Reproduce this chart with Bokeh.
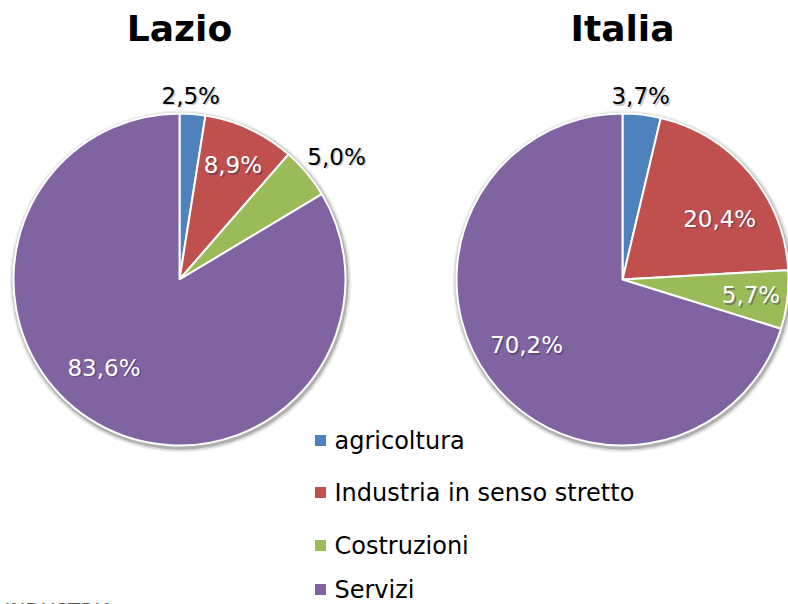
import numpy as np
from bokeh.plotting import figure
from bokeh.models import ColumnDataSource, Range1d
from bokeh.core.properties import value
from bokeh.embed import file_html
from bokeh.resources import INLINE

categories = ["agricoltura", "Industria in senso stretto", "Costruzioni", "Servizi"]
colors = ["#4F81BD", "#C0504D", "#9BBB59", "#8064A2"]
lazio = [2.5, 8.9, 5.0, 83.6]
italia = [3.7, 20.4, 5.7, 70.2]
lazio_labels = ["2,5%", "8,9%", "5,0%", "83,6%"]
italia_labels = ["3,7%", "20,4%", "5,7%", "70,2%"]
titles = ["Lazio", "Italia"]

W, H = 788, 604
FONT = "DejaVu Sans"

p = figure(width=W, height=H, x_range=Range1d(0, W), y_range=Range1d(0, H),
           output_backend="svg", toolbar_location=None, min_border=0)
p.axis.visible = False
p.grid.visible = False
p.outline_line_color = None
p.background_fill_color = "white"

R = 166
pies = [
    dict(cx=179, cy=279, vals=lazio, labs=lazio_labels,
         rf=[1.11, 0.76, 1.20, 0.70], nudge=[1, 0, -2, -11], inside=[False, True, False, True]),
    dict(cx=622, cy=279, vals=italia, labs=italia_labels,
         rf=[1.11, 0.69, 0.78, 0.70], nudge=[1, -8, 0, -2], inside=[False, True, True, True]),
]

for i, pie in enumerate(pies):
    cx, cy = pie["cx"], H - pie["cy"]
    vals = np.array(pie["vals"], dtype=float)
    frac = vals / vals.sum()
    cum = np.concatenate([[0], np.cumsum(frac)])
    start = np.deg2rad(90 - cum[1:] * 360)
    end = np.deg2rad(90 - cum[:-1] * 360)
    for k, a in [(5, 0.06), (3.5, 0.10), (2, 0.18)]:
        p.circle(x=cx + 1, y=cy - 2, radius=R + k, fill_color="#000000",
                 fill_alpha=a, line_color=None)
    src = ColumnDataSource(dict(x=[cx] * 4, y=[cy] * 4, s=start, e=end, c=colors))
    p.wedge(x="x", y="y", radius=R, start_angle="s", end_angle="e", fill_color="c",
            line_color="white", line_width=2, source=src)
    mid = 90 - (cum[:-1] + frac / 2) * 360 + np.array(pie["nudge"])
    lx = cx + np.array(pie["rf"]) * R * np.cos(np.deg2rad(mid))
    ly = cy + np.array(pie["rf"]) * R * np.sin(np.deg2rad(mid))
    tc = ["white" if ins else "black" for ins in pie["inside"]]
    sc = ["#3a2a55" if ins else "#888888" for ins in pie["inside"]]
    p.text(x=lx + 1.5, y=ly - 1.5, text=pie["labs"], text_color=sc, text_alpha=0.45,
           text_font=value(FONT), text_font_size="23px",
           text_align="center", text_baseline="middle")
    p.text(x=lx, y=ly, text=pie["labs"], text_color=tc,
           text_font=value(FONT), text_font_size="23px",
           text_align="center", text_baseline="middle")
    p.text(x=[pie["cx"]], y=[H - 28], text=[titles[i]], text_color="black",
           text_font=value(FONT), text_font_size="36px", text_font_style="bold",
           text_align="center", text_baseline="middle")

# legend
ly = H - np.array([440, 492, 545, 589])
p.scatter(x=[320] * 4, y=ly, marker="square", size=11, fill_color=colors, line_color=None)
p.text(x=[334] * 4, y=ly, text=categories, text_color="black",
       text_font=value(FONT), text_font_size="24px",
       text_align="left", text_baseline="middle")

# partially visible text at bottom-left (cut off by the page edge, as in the reference)
p.text(x=[4], y=[H - 597], text=["INDUSTRIA"], text_color="#555555",
       text_font=value(FONT), text_font_size="20px",
       text_align="left", text_baseline="top")

open("out.html", "w").write(file_html(p, INLINE))
